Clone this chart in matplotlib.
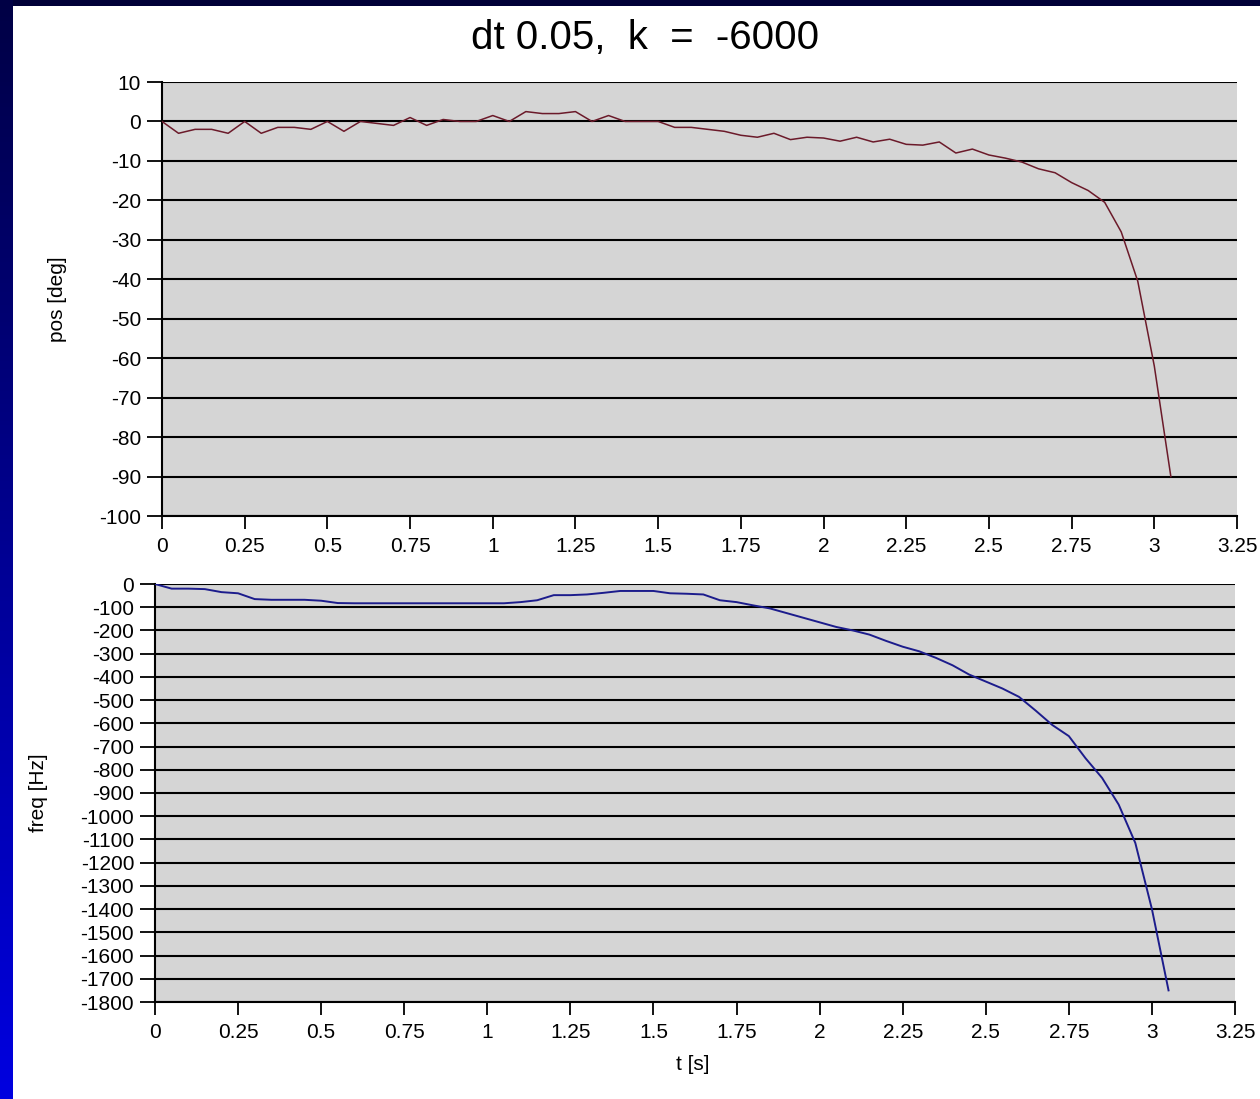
import numpy as np
import matplotlib
matplotlib.use("Agg")
import matplotlib.pyplot as plt

plt.rcParams['font.family'] = ['Liberation Sans', 'DejaVu Sans']
plt.rcParams['axes.unicode_minus'] = False

# time axis, one sample every dt = 0.05 s
t = np.round(np.arange(62) * 0.05, 2)

# pendulum position [deg]
pos = [0, -3, -2, -2, -3, 0, -3, -1.5, -1.5, -2,
       0, -2.5, 0, -0.5, -1, 1, -1, 0.5, 0, 0,
       1.5, 0, 2.5, 2, 2, 2.5, 0, 1.5, 0, 0,
       0, -1.5, -1.5, -2, -2.5, -3.5, -4, -3, -4.6, -4,
       -4.2, -5, -4, -5.2, -4.5, -5.8, -6, -5.2, -8, -7,
       -8.5, -9.3, -10.3, -12, -13, -15.5, -17.5, -20.5, -28, -40.5,
       -62, -90]

# motor frequency [Hz]
freq = [0, -20, -20, -22, -35, -40, -65, -68, -68, -68,
        -72, -82, -83, -83, -83, -83, -83, -83, -83, -83,
        -83, -83, -78, -70, -48, -48, -45, -38, -30, -30,
        -30, -40, -42, -45, -70, -78, -92, -105, -125, -145,
        -165, -185, -200, -218, -245, -270, -290, -318, -350, -390,
        -420, -450, -486, -545, -607, -655, -750, -835, -950, -1115,
        -1400, -1750]

x_ticks = [0, 0.25, 0.5, 0.75, 1, 1.25, 1.5, 1.75, 2, 2.25, 2.5, 2.75, 3, 3.25]
x_labels = ['0', '0.25', '0.5', '0.75', '1', '1.25', '1.5', '1.75', '2',
            '2.25', '2.5', '2.75', '3', '3.25']
pos_ticks = list(range(10, -101, -10))
freq_ticks = list(range(0, -1801, -100))

W, H = 1260, 1099
fig = plt.figure(figsize=(W / 100, H / 100), dpi=100)
fig.patch.set_facecolor('white')

# slide frame: navy strip on top, blue gradient on the left
top = fig.add_axes([0, 1 - 6 / H, 1, 6 / H])
top.set_facecolor('#000038')
top.set_xticks([]); top.set_yticks([])
for s in top.spines.values():
    s.set_visible(False)
left = fig.add_axes([0, 0, 12 / W, 1])
grad = np.linspace(0, 1, 256).reshape(-1, 1)
left.imshow(grad, aspect='auto', cmap=matplotlib.colors.LinearSegmentedColormap.from_list(
    'edge', ['#000045', '#0000e0']), extent=[0, 1, 0, 1], origin='upper')
left.set_xticks([]); left.set_yticks([])
for s in left.spines.values():
    s.set_visible(False)

grey = '#d5d5d5'


def style_axes(ax, yticks, ylim):
    ax.set_facecolor(grey)
    ax.set_xlim(0, 3.25)
    ax.set_ylim(*ylim)
    ax.set_xticks(x_ticks)
    ax.set_xticklabels(x_labels)
    ax.set_yticks(yticks)
    for y in yticks:
        ax.axhline(y, color='black', lw=1.5, zorder=1)
    ax.spines['top'].set_visible(False)
    ax.spines['right'].set_visible(False)
    ax.spines['left'].set_linewidth(1.5)
    ax.spines['bottom'].set_linewidth(1.5)
    ax.tick_params(axis='y', direction='out', length=11, width=1.3, pad=4, labelsize=15)
    ax.tick_params(axis='x', direction='out', length=9, width=1.3, pad=6, labelsize=15)


ax1 = fig.add_axes([162 / W, 1 - 516 / H, 1075 / W, 434 / H])
style_axes(ax1, pos_ticks, (-100, 10))
ax1.plot(t, pos, color='#6b1a2a', lw=1.1, zorder=3)
ax1.set_ylabel('pos [deg]', fontsize=15)
ax1.yaxis.set_label_coords(-0.088, 0.5)

ax2 = fig.add_axes([155 / W, 1 - 1002 / H, 1080 / W, 418 / H])
style_axes(ax2, freq_ticks, (-1800, 0))
ax2.plot(t, freq, color='#1c1c8c', lw=1.4, zorder=3)
ax2.set_ylabel('freq [Hz]', fontsize=15)
ax2.yaxis.set_label_coords(-0.099, 0.5)
ax2.set_xlabel('t [s]', fontsize=15)
ax2.xaxis.set_label_coords(0.498, -0.126)

fig.text(645 / W, 1 - 38 / H, 'dt 0.05,  k  =  -6000', ha='center', va='center',
         fontsize=29)

fig.savefig('out.png', dpi=100, facecolor=fig.get_facecolor())
